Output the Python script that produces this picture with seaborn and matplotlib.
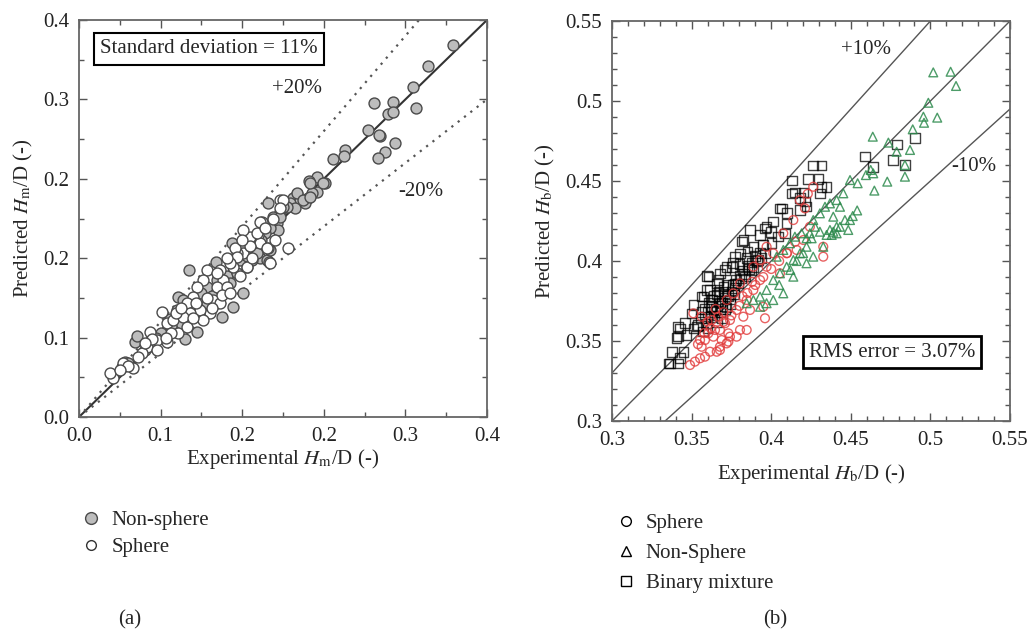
import numpy as np
import pandas as pd
import matplotlib
matplotlib.use("Agg")
import matplotlib.pyplot as plt
import seaborn as sns
from matplotlib.ticker import MultipleLocator, FormatStrFormatter, FuncFormatter
from matplotlib.lines import Line2D

# ---------------- data: panel (a) ----------------
nonsphere_a_x = [0.3670, 0.3418, 0.3272, 0.3304, 0.2892, 0.3082, 0.3026, 0.3075, 0.2837, 0.2951,
                 0.2945, 0.3098, 0.3000, 0.2934, 0.2608, 0.2601, 0.2487, 0.2412, 0.2330, 0.2258,
                 0.2336, 0.2280, 0.2140, 0.2101, 0.2167, 0.2248, 0.2216, 0.2069, 0.2118, 0.2036,
                 0.1970, 0.1905, 0.1856, 0.1938, 0.1954, 0.1709, 0.1758, 0.1693, 0.1775,
                 0.1078, 0.1340, 0.1497, 0.1611, 0.1507, 0.1399, 0.1154, 0.1039, 0.0892, 0.0958,
                 0.0860, 0.0549, 0.0565, 0.0451, 0.0484, 0.0419, 0.0974, 0.1023, 0.1252, 0.1350,
                 0.1644, 0.1693, 0.1742, 0.1840, 0.1873, 0.1873, 0.1970, 0.2003, 0.2134, 0.2199,
                 0.2265, 0.2265, 0.2395,
                 0.1180, 0.1250, 0.1300, 0.1420, 0.1450, 0.1550, 0.1600, 0.0800, 0.0700, 0.0650,
                 0.0750, 0.1100, 0.1480, 0.1580, 0.1820, 0.1780, 0.1650, 0.1000, 0.0900, 0.1200]
nonsphere_a_y = [0.3748, 0.3539, 0.3328, 0.3110, 0.3167, 0.3177, 0.3053, 0.3076, 0.2892, 0.2831,
                 0.2840, 0.2758, 0.2673, 0.2606, 0.2690, 0.2630, 0.2603, 0.2354, 0.2421, 0.2381,
                 0.2270, 0.2253, 0.2242, 0.2202, 0.2186, 0.2202, 0.2152, 0.2152, 0.2101, 0.2118,
                 0.2068, 0.2018, 0.2152, 0.1950, 0.1884, 0.1783, 0.1716, 0.1683, 0.1599,
                 0.1480, 0.1565, 0.1757, 0.1246, 0.1105, 0.1010, 0.0853, 0.0783, 0.0984, 0.1078,
                 0.0877, 0.0759, 0.0816, 0.0557, 0.0540, 0.0507, 0.1212, 0.1179, 0.1313, 0.1380,
                 0.1513, 0.1580, 0.1648, 0.1580, 0.1683, 0.1900, 0.2018, 0.2118, 0.2253, 0.2186,
                 0.2220, 0.2354, 0.2354,
                 0.1050, 0.1150, 0.1220, 0.1290, 0.1420, 0.1450, 0.1700, 0.0850, 0.0720, 0.0680,
                 0.0800, 0.1120, 0.1350, 0.1580, 0.1850, 0.1780, 0.1620, 0.0950, 0.0920, 0.1250]

sphere_a_x = [0.2052, 0.1866, 0.1970, 0.1791, 0.1758, 0.1775, 0.1856, 0.1676, 0.1611, 0.1546,
              0.1513, 0.1382, 0.1415, 0.1350, 0.1447, 0.1317, 0.1382, 0.1284, 0.1252, 0.1219,
              0.1154, 0.1120, 0.1056, 0.1186, 0.1219, 0.1088, 0.0810, 0.0860, 0.0925, 0.0974,
              0.1023, 0.1056, 0.0696, 0.0762, 0.0860, 0.0664, 0.0762, 0.0614, 0.0533, 0.0337,
              0.0434, 0.0304, 0.2003, 0.1970, 0.1775, 0.1742, 0.1840, 0.1873, 0.1529, 0.1644,
              0.1546, 0.1480, 0.1611,
              0.0580, 0.0480, 0.0720, 0.0900, 0.0950, 0.1120, 0.1300, 0.1400, 0.1480, 0.1580,
              0.1700, 0.1680, 0.1600, 0.1450, 0.1350, 0.1150, 0.1000, 0.0850, 0.0650, 0.0400,
              0.1920, 0.1820, 0.1900, 0.1250]
sphere_a_y = [0.1700, 0.1565, 0.2186, 0.1967, 0.1834, 0.1750, 0.1700, 0.1817, 0.1648, 0.1648,
              0.1513, 0.1480, 0.1380, 0.1313, 0.1313, 0.1179, 0.1146, 0.1045, 0.1480, 0.1380,
              0.1313, 0.1212, 0.1146, 0.1078, 0.0977, 0.1045, 0.1061, 0.0943, 0.0977, 0.0842,
              0.1010, 0.0910, 0.0859, 0.0776, 0.0759, 0.0708, 0.0675, 0.0641, 0.0491, 0.0389,
              0.0540, 0.0439, 0.2186, 0.2101, 0.1967, 0.1850, 0.1700, 0.1548, 0.1700, 0.1513,
              0.1615, 0.1548, 0.1884,
              0.0600, 0.0510, 0.0790, 0.0850, 0.1050, 0.1000, 0.1100, 0.1230, 0.1250, 0.1420,
              0.1600, 0.1720, 0.1780, 0.1600, 0.1450, 0.1150, 0.1100, 0.0800, 0.0750, 0.0470,
              0.1780, 0.1900, 0.2000, 0.1200]

# ---------------- data: panel (b) ----------------
sphere_b_x = [0.3490, 0.3521, 0.3553, 0.3584, 0.3616, 0.3658, 0.3678, 0.3720, 0.3689, 0.3741,
              0.3783, 0.3804, 0.3846, 0.3825, 0.3867, 0.3950, 0.3961, 0.3511, 0.3563, 0.3626,
              0.3668, 0.3710, 0.3731, 0.3647, 0.3605, 0.3584, 0.4327, 0.4327, 0.4212, 0.4264,
              0.4139, 0.4076, 0.4013, 0.3971, 0.3930, 0.3888, 0.3846, 0.3783, 0.3741, 0.3678,
              0.3637, 0.3553, 0.3563, 0.3678, 0.3731, 0.4055, 0.4097, 0.4160, 0.4202, 0.4243,
              0.3971, 0.3930, 0.3888, 0.3804, 0.3762, 0.3720, 0.3650, 0.3700, 0.3600, 0.4180,
              0.4230,
              0.3700, 0.3750, 0.3800, 0.3850, 0.3900, 0.3950, 0.4000, 0.4050, 0.4100, 0.3620,
              0.3580, 0.3540, 0.3820, 0.3880, 0.4150]
sphere_b_y = [0.3350, 0.3371, 0.3392, 0.3402, 0.3433, 0.3433, 0.3464, 0.3485, 0.3506, 0.3527,
              0.3527, 0.3569, 0.3569, 0.3652, 0.3694, 0.3714, 0.3642, 0.3673, 0.3652, 0.3631,
              0.3652, 0.3611, 0.3548, 0.3569, 0.3548, 0.3506, 0.4027, 0.4089, 0.4329, 0.4464,
              0.4256, 0.4173, 0.4048, 0.3964, 0.3881, 0.3819, 0.3756, 0.3694, 0.3631, 0.3569,
              0.3527, 0.3506, 0.3464, 0.3444, 0.3496, 0.3923, 0.4048, 0.4069, 0.4131, 0.4214,
              0.4089, 0.4006, 0.3964, 0.3860, 0.3798, 0.3756, 0.3700, 0.3680, 0.3620, 0.4380,
              0.4420,
              0.3620, 0.3660, 0.3720, 0.3800, 0.3850, 0.3900, 0.3950, 0.4000, 0.4050, 0.3580,
              0.3550, 0.3480, 0.3780, 0.3870, 0.4120]

nonsphere_b_x = [0.5018, 0.5127, 0.5161, 0.4987, 0.4956, 0.4960, 0.5043, 0.4889, 0.4638, 0.4736,
                 0.4788, 0.4872, 0.4840, 0.4840, 0.4729, 0.4648, 0.4595, 0.4641, 0.4625, 0.4543,
                 0.4495, 0.4540, 0.4495, 0.4512, 0.4463, 0.4432, 0.4411, 0.4380, 0.4453, 0.4411,
                 0.4369, 0.4338, 0.4306, 0.4264, 0.4275, 0.4243, 0.4222, 0.4484, 0.4390, 0.4348,
                 0.4306, 0.4254, 0.4222, 0.4181, 0.4139, 0.4097, 0.4055, 0.4013, 0.3971, 0.3930,
                 0.3888, 0.3846, 0.4191, 0.4149, 0.4118, 0.4076, 0.4034, 0.4369, 0.4327, 0.4411,
                 0.4432, 0.4390, 0.4120, 0.4139, 0.4222, 0.4264, 0.4013, 0.3971, 0.3930, 0.4076,
                 0.4160, 0.4200, 0.4050]
nonsphere_b_y = [0.5179, 0.5183, 0.5094, 0.4989, 0.4902, 0.4864, 0.4896, 0.4823, 0.4777, 0.4740,
                 0.4683, 0.4694, 0.4600, 0.4527, 0.4496, 0.4440, 0.4537, 0.4548, 0.4569, 0.4486,
                 0.4506, 0.4316, 0.4256, 0.4281, 0.4256, 0.4214, 0.4173, 0.4163, 0.4423, 0.4381,
                 0.4360, 0.4339, 0.4298, 0.4256, 0.4214, 0.4173, 0.4142, 0.4194, 0.4183, 0.4163,
                 0.4183, 0.4142, 0.4089, 0.4048, 0.4006, 0.3964, 0.3923, 0.3881, 0.3819, 0.3777,
                 0.3756, 0.3736, 0.4173, 0.4152, 0.4111, 0.4069, 0.4027, 0.4194, 0.4089, 0.4214,
                 0.4339, 0.4277, 0.3944, 0.3902, 0.3986, 0.4027, 0.3756, 0.3736, 0.3714, 0.3798,
                 0.4000, 0.4050, 0.3850]

binary_b_x = [0.4317, 0.4264, 0.4129, 0.4233, 0.4296, 0.4149, 0.4202, 0.4317, 0.4180, 0.4055,
              0.4180, 0.4212, 0.4013, 0.3867, 0.3971, 0.3930, 0.3825, 0.3888, 0.3804, 0.3846,
              0.3762, 0.3720, 0.3678, 0.3595, 0.3658, 0.3616, 0.3574, 0.3511, 0.3563, 0.3511,
              0.3427, 0.3469, 0.3406, 0.3448, 0.3375, 0.3427, 0.3364, 0.3416, 0.4903, 0.4792,
              0.4589, 0.4767, 0.4641, 0.4840, 0.4348, 0.4306, 0.4222, 0.4097, 0.4066, 0.4129,
              0.3961, 0.3815, 0.3773, 0.3752, 0.3710, 0.3668, 0.3605, 0.3595, 0.3563, 0.3500,
              0.3458, 0.3416, 0.3416, 0.3354, 0.3532, 0.3584, 0.3626, 0.3689, 0.3710, 0.3773,
              0.3836, 0.3877, 0.3919, 0.3961, 0.4003, 0.4044, 0.4086,
              0.3620, 0.3650, 0.3670, 0.3690, 0.3710, 0.3640, 0.3680, 0.3720, 0.3660, 0.3700,
              0.3740, 0.3630, 0.3600, 0.3750, 0.3730, 0.3770, 0.3690, 0.3660, 0.3780, 0.3800,
              0.3820, 0.3850, 0.3880, 0.3900, 0.3930, 0.3800, 0.3850, 0.3950, 0.4000, 0.4100,
              0.3580, 0.3610, 0.3640, 0.3670, 0.3700, 0.3730, 0.3760, 0.3790, 0.3810, 0.3830,
              0.3860, 0.3890, 0.3910, 0.3940, 0.3560, 0.3590, 0.3620, 0.3650, 0.3680, 0.3710,
              0.3740, 0.3770, 0.3540, 0.3570, 0.3600]
binary_b_y = [0.4596, 0.4596, 0.4502, 0.4513, 0.4513, 0.4427, 0.4429, 0.4464, 0.4392, 0.4329,
              0.4319, 0.4371, 0.4246, 0.4194, 0.4214, 0.4163, 0.4131, 0.4089, 0.4048, 0.4017,
              0.3986, 0.3964, 0.3923, 0.3906, 0.3860, 0.3819, 0.3777, 0.3725, 0.3683, 0.3579,
              0.3579, 0.3538, 0.3517, 0.3433, 0.3433, 0.3392, 0.3360, 0.3360, 0.4767, 0.4729,
              0.4652, 0.4631, 0.4589, 0.4600, 0.4464, 0.4423, 0.4340, 0.4235, 0.4329, 0.4423,
              0.4204, 0.4121, 0.4027, 0.3964, 0.3944, 0.3881, 0.3902, 0.3819, 0.3777, 0.3673,
              0.3611, 0.3590, 0.3527, 0.3360, 0.3590, 0.3652, 0.3714, 0.3736, 0.3798, 0.3860,
              0.3902, 0.3944, 0.4006, 0.4048, 0.4111, 0.4152, 0.4173,
              0.3720, 0.3700, 0.3750, 0.3720, 0.3770, 0.3660, 0.3680, 0.3710, 0.3790, 0.3810,
              0.3760, 0.3760, 0.3680, 0.3810, 0.3850, 0.3830, 0.3640, 0.3620, 0.3880, 0.3910,
              0.3940, 0.3970, 0.3990, 0.4030, 0.4050, 0.3980, 0.4060, 0.4100, 0.4180, 0.4300,
              0.3700, 0.3740, 0.3780, 0.3810, 0.3840, 0.3780, 0.3850, 0.3860, 0.3890, 0.3920,
              0.3950, 0.3960, 0.4000, 0.4020, 0.3640, 0.3610, 0.3650, 0.3690, 0.3740, 0.3700,
              0.3730, 0.3790, 0.3600, 0.3560, 0.3580]

legend_a = ["Non-sphere", "Sphere"]
legend_b = ["Sphere", "Non-Sphere", "Binary mixture"]

# ---------------- style ----------------
sns.set_style("ticks")
plt.rcParams["font.family"] = ["Liberation Serif", "DejaVu Serif"]
plt.rcParams["mathtext.fontset"] = "stix"
FS = 15

fig = plt.figure(figsize=(10.29, 6.35), dpi=100)
axA = fig.add_axes([79/1029, 1-417/635, 408/1029, 397/635])
axB = fig.add_axes([612/1029, 1-421/635, 398/1029, 400/635])

spine_col = "#666666"
for ax in (axA, axB):
    for sp in ax.spines.values():
        sp.set_color(spine_col)
        sp.set_linewidth(1.3)
    ax.tick_params(which="both", direction="in", top=True, right=True,
                   colors="#555555", labelcolor="#222222", labelsize=FS)
    ax.tick_params(which="major", length=6, width=1.0, pad=7)
    ax.tick_params(which="minor", length=3.5, width=1.0)

# ---------------- panel (a) ----------------
dfa_n = pd.DataFrame({"x": nonsphere_a_x, "y": nonsphere_a_y})
dfa_s = pd.DataFrame({"x": sphere_a_x, "y": sphere_a_y})
axA.axline((0, 0), slope=1.0, color="#333333", lw=1.5, zorder=1)
axA.axline((0, 0), slope=1.2, color="#555555", lw=1.6, ls=(0, (1, 2.6)), zorder=1)
axA.axline((0, 0), slope=0.8, color="#555555", lw=1.6, ls=(0, (1, 2.6)), zorder=1)
sns.scatterplot(data=dfa_n, x="x", y="y", ax=axA, marker="o", s=62,
                color="#bdbdbd", edgecolor="#4a4a4a", linewidth=1.0, zorder=3)
sns.scatterplot(data=dfa_s, x="x", y="y", ax=axA, marker="o", s=62,
                color="white", edgecolor="#4a4a4a", linewidth=1.0, zorder=4)
axA.set_xlim(0, 0.4)
axA.set_ylim(0, 0.4)
axA.xaxis.set_major_locator(MultipleLocator(0.08))
axA.yaxis.set_major_locator(MultipleLocator(0.08))
axA.xaxis.set_minor_locator(MultipleLocator(0.04))
axA.yaxis.set_minor_locator(MultipleLocator(0.04))
axA.xaxis.set_major_formatter(FormatStrFormatter("%.1f"))
axA.yaxis.set_major_formatter(FormatStrFormatter("%.1f"))
axA.set_xlabel(r"Experimental $\mathit{H}_{\mathrm{m}}$/D (-)", fontsize=FS, labelpad=1)
axA.set_ylabel(r"Predicted $\mathit{H}_{\mathrm{m}}$/D (-)", fontsize=FS, labelpad=6)
axA.text(0.0206, 0.371, "Standard deviation = 11%", fontsize=FS, ha="left", va="center",
         bbox=dict(boxstyle="square,pad=0.3", fc="white", ec="black", lw=1.5), zorder=6)
axA.text(0.214, 0.331, "+20%", fontsize=FS, ha="center", va="center")
axA.text(0.335, 0.227, "-20%", fontsize=FS, ha="center", va="center")

# ---------------- panel (b) ----------------
dfb_b = pd.DataFrame({"x": binary_b_x, "y": binary_b_y})
dfb_s = pd.DataFrame({"x": sphere_b_x, "y": sphere_b_y})
dfb_n = pd.DataFrame({"x": nonsphere_b_x, "y": nonsphere_b_y})
line_col = "#555555"
axB.axline((0.3, 0.3), slope=1.0, color=line_col, lw=1.0, zorder=1)
axB.axline((0, 0), slope=1.1, color=line_col, lw=1.0, zorder=1)
axB.axline((0, 0), slope=0.9, color=line_col, lw=1.0, zorder=1)
sns.scatterplot(data=dfb_b, x="x", y="y", ax=axB, marker="s", s=48,
                fc="none", ec="black", linewidth=1.0, alpha=0.75, zorder=3)
sns.scatterplot(data=dfb_s, x="x", y="y", ax=axB, marker="o", s=40,
                fc="none", ec="#e23b3b", linewidth=1.0, alpha=0.8, zorder=4)
sns.scatterplot(data=dfb_n, x="x", y="y", ax=axB, marker="^", s=40,
                fc="none", ec="#2e8b4e", linewidth=1.0, alpha=0.85, zorder=5)
axB.set_xlim(0.3, 0.55)
axB.set_ylim(0.3, 0.55)
axB.xaxis.set_major_locator(MultipleLocator(0.05))
axB.yaxis.set_major_locator(MultipleLocator(0.05))
axB.xaxis.set_minor_locator(MultipleLocator(0.01))
axB.yaxis.set_minor_locator(MultipleLocator(0.01))
fmt = FuncFormatter(lambda v, p: "%g" % round(v, 3))
axB.xaxis.set_major_formatter(fmt)
axB.yaxis.set_major_formatter(fmt)
axB.set_xlabel(r"Experimental $\mathit{H}_{\mathrm{b}}$/D (-)", fontsize=FS, labelpad=9)
axB.set_ylabel(r"Predicted $\mathit{H}_{\mathrm{b}}$/D (-)", fontsize=FS, labelpad=6)
axB.text(0.4759, 0.3431, "RMS error = 3.07%", fontsize=FS, ha="center", va="center",
         bbox=dict(boxstyle="square,pad=0.3", fc="white", ec="black", lw=2.0), zorder=6)
axB.text(0.4595, 0.532, "+10%", fontsize=FS, ha="center", va="center")
axB.text(0.5273, 0.459, "-10%", fontsize=FS, ha="center", va="center")

# ---------------- legends ----------------
h_a = [Line2D([], [], ls="none", marker="o", ms=8.5, mfc="#bdbdbd", mec="#4a4a4a", mew=1.0),
       Line2D([], [], ls="none", marker="o", ms=7, mfc="white", mec="#333333", mew=1.0)]
fig.legend(h_a, legend_a, loc="upper left", bbox_to_anchor=(72/1029, 1-502/635),
           frameon=False, fontsize=FS, handletextpad=0.5, labelspacing=0.35,
           handlelength=1.0, borderaxespad=0)
h_b = [Line2D([], [], ls="none", marker="o", ms=7, mfc="none", mec="black", mew=1.0),
       Line2D([], [], ls="none", marker="^", ms=7, mfc="none", mec="black", mew=1.0),
       Line2D([], [], ls="none", marker="s", ms=7, mfc="none", mec="black", mew=1.0)]
fig.legend(h_b, legend_b, loc="upper left", bbox_to_anchor=(607/1029, 1-505/635),
           frameon=False, fontsize=FS, handletextpad=0.45, labelspacing=0.5,
           handlelength=1.0, borderaxespad=0)

fig.text(130/1029, 1-620/635, "(a)", fontsize=FS, ha="center", va="center")
fig.text(775/1029, 1-620/635, "(b)", fontsize=FS, ha="center", va="center")

fig.savefig("out.png", dpi=100)
